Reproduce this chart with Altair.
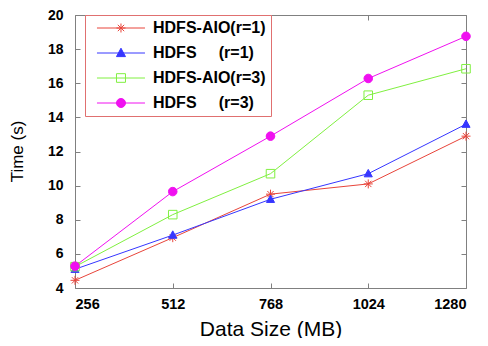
import altair as alt
import pandas as pd

# ---- data ----
sizes = [256, 512, 768, 1024, 1280]
series_names = [
    "HDFS-AIO(r=1)",
    "HDFS\u00a0\u00a0\u00a0\u00a0\u00a0(r=1)",
    "HDFS-AIO(r=3)",
    "HDFS\u00a0\u00a0\u00a0\u00a0\u00a0(r=3)",
]
aio_r1 = [4.45, 6.95, 9.5, 10.1, 12.9]
hdfs_r1 = [5.1, 7.1, 9.2, 10.7, 13.6]
aio_r3 = [5.25, 8.3, 10.7, 15.3, 16.85]
hdfs_r3 = [5.28, 9.65, 12.9, 16.28, 18.75]
y_ticks = [4, 6, 8, 10, 12, 14, 16, 18, 20]

line_colors = ["#e8443a", "#3636ff", "#80f040", "#f010f0"]
fill_colors = ["#e8443a", "#3636ff", "transparent", "#f010f0"]

# marker glyphs drawn on the data points
plot_shapes = [
    "M-1,0H1M0,-1V1M-0.7,-0.7L0.7,0.7M-0.7,0.7L0.7,-0.7",
    "M0,-0.95L0.9,0.7H-0.9Z",
    "M-0.95,-0.95H0.95V0.95H-0.95Z",
    "M-0.95,0A0.95,0.95,0,1,0,0.95,0A0.95,0.95,0,1,0,-0.95,0Z",
]
# legend keys: a line segment with the marker in its middle
legend_shapes = [
    "M-0.17,0H7.83M3.08,0H4.58M3.83,-0.75V0.75M3.3,-0.53L4.36,0.53M3.3,0.53L4.36,-0.53",
    "M-0.17,0H7.83M3.83,-0.8L4.58,0.6H3.08Z",
    "M-0.17,0H7.83M3.08,-0.72H4.58V0.72H3.08Z",
    "M-0.17,0H7.83M3.08,0A0.75,0.75,0,1,0,4.58,0A0.75,0.75,0,1,0,3.08,0Z",
]

marker_names = ["marker " + n for n in series_names]

rows = []
for name, mname, vals in zip(series_names, marker_names, [aio_r1, hdfs_r1, aio_r3, hdfs_r3]):
    for s, v in zip(sizes, vals):
        rows.append({"size": s, "time": v, "series": name, "marker": mname})
df = pd.DataFrame(rows)

FONT = "Liberation Sans"
TICK = {"expr": "-5"}

xscale = alt.Scale(domain=[256, 1280], nice=False, zero=False)
yscale = alt.Scale(domain=[4, 20], nice=False, zero=False)

all_domain = series_names + marker_names
stroke_scale = alt.Scale(domain=all_domain, range=line_colors + line_colors)
fill_scale = alt.Scale(domain=all_domain, range=fill_colors + fill_colors)
shape_scale = alt.Scale(domain=all_domain, range=legend_shapes + plot_shapes)

base = alt.Chart(df)

leg = alt.Legend(
    orient="none", legendX=10, legendY=0, title=None, values=series_names,
    padding=5, rowPadding=9, labelOffset=47,
    labelFont=FONT, labelFontSize=16, labelFontWeight="bold", labelColor="black",
    labelLimit=300,
    labelExpr="datum.label + '\u00a0\u00a0\u00a0\u00a0\u00a0\u00a0\u00a0\u00a0'",
    strokeColor="#e07070", fillColor="white",
    symbolSize=144, symbolStrokeWidth=1, symbolOpacity=1,
)

# legend-only layer (draws no marks, carries the legend)
legend_layer = base.mark_point(size=144, strokeWidth=1, opacity=1).encode(
    x=alt.X("size:Q", scale=xscale, axis=None),
    y=alt.Y("time:Q", scale=yscale, axis=None),
    shape=alt.Shape("series:N", scale=shape_scale, legend=leg),
    fill=alt.Fill("series:N", scale=fill_scale, legend=leg),
    stroke=alt.Stroke("series:N", scale=stroke_scale, legend=leg),
).transform_filter("false")

lines = base.mark_line(strokeWidth=1).encode(
    x=alt.X("size:Q", scale=xscale, axis=alt.Axis(
        orient="bottom", values=sizes, format="d", title="Data Size (MB)",
        labelFont=FONT, labelFontSize=14.5, labelFontWeight="bold", labelColor="black",
        labelPadding=14, tickSize=TICK,
        titleFont=FONT, titleFontSize=21, titleFontWeight="normal", titleColor="black",
        titleY=47, titleBaseline="alphabetic")),
    y=alt.Y("time:Q", scale=yscale, axis=alt.Axis(
        orient="left", values=y_ticks, title="Time (s)",
        labelFont=FONT, labelFontSize=14, labelFontWeight="bold", labelColor="black",
        labelPadding=17, tickSize=TICK,
        titleFont=FONT, titleFontSize=17, titleFontWeight="normal", titleColor="black",
        titleX=-58, titleY=136, titleAngle=270, titleAlign="center", titleBaseline="middle")),
    stroke=alt.Stroke("series:N", scale=stroke_scale),
)

points = base.mark_point(size=81, strokeWidth=1, opacity=1).encode(
    x=alt.X("size:Q", scale=xscale, axis=alt.Axis(
        orient="top", values=sizes, labels=False, title=None, tickSize=TICK)),
    y=alt.Y("time:Q", scale=yscale, axis=alt.Axis(
        orient="right", values=y_ticks, labels=False, title=None, tickSize=TICK)),
    shape=alt.Shape("marker:N", scale=shape_scale),
    fill=alt.Fill("marker:N", scale=fill_scale),
    stroke=alt.Stroke("marker:N", scale=stroke_scale),
)

chart = alt.layer(legend_layer, lines, points).resolve_axis(
    x="independent", y="independent"
).properties(
    width=391, height=273,
    autosize=alt.AutoSizeParams(type="none"),
    padding={"left": 67, "top": 7, "right": 14, "bottom": 50},
).configure_view(
    stroke="#808080", strokeWidth=1
).configure_axis(
    domain=False, grid=False, tickColor="#808080", tickWidth=1
)

chart.save("out.html", embed_options={"renderer": "svg", "actions": False})
